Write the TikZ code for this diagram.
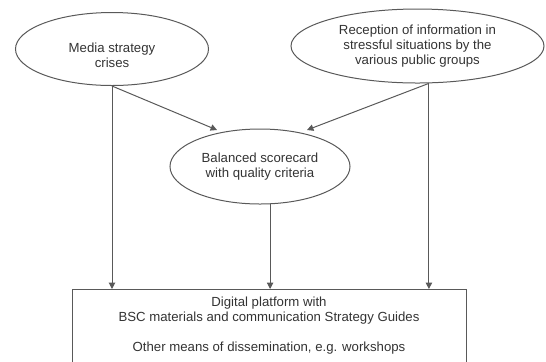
\documentclass[tikz,border=0pt]{standalone}
\usepackage{fontspec}
\setmainfont{Liberation Sans}
\usetikzlibrary{positioning,arrows.meta,shapes.geometric}

\begin{document}
\begin{tikzpicture}[x=0.5pt,y=-0.5pt,>={Triangle[length=3.2pt,width=3.2pt]},
  oval/.style={ellipse,draw=black!65,line width=0.5pt,inner sep=0pt,align=center,text=black!80,font=\fontsize{6.6pt}{7.5pt}\selectfont},
  link/.style={->,draw=black!65,line width=0.5pt}]
\useasboundingbox (0,0) rectangle (546,361);
\clip (0,0) rectangle (546,361);
% the three inputs
\node[oval,minimum width=96.5pt,minimum height=36.5pt] (media) at (112,49) {\rule{0pt}{11pt}Media strategy\\crises};
\node[oval,minimum width=126.5pt,minimum height=37pt] (reception) at (417.5,46) {Reception of information in\\stressful situations by the\\various public groups};
\node[oval,minimum width=90pt,minimum height=37.5pt] (balanced) at (260,166.5) {Balanced scorecard\\with quality criteria};
% output box, runs past the lower edge
\node[draw=black!65,line width=0.5pt,anchor=north,minimum width=197pt,inner ysep=3.5pt,align=center,text=black!80,font=\fontsize{6.6pt}{7.5pt}\selectfont] (platform) at (269,289)
  {Digital platform with\\BSC materials and communication Strategy Guides\\[7.5pt]Other means of dissemination, e.g. workshops\rule[-10pt]{0pt}{0pt}};
\coordinate (bscleft) at (217,130);
\coordinate (bscright) at (307,130);
\draw[link] (media.south) -- (bscleft);
\draw[link] (reception.-73) -- (bscright);
\draw[link] (media.south) -- (media.south |- platform.north);
\draw[link] (balanced.-75) -- (balanced.-75 |- platform.north);
\draw[link] (reception.-73) -- (reception.-73 |- platform.north);
\end{tikzpicture}
\end{document}
